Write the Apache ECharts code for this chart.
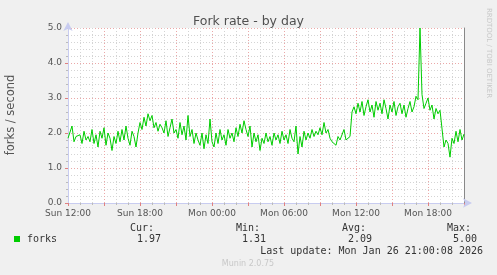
<!DOCTYPE html>
<html><head><meta charset="utf-8">
<script src="https://cdn.jsdelivr.net/npm/echarts@6/dist/echarts.min.js"></script>
<style>html,body{margin:0;padding:0;background:#f0f0f0}#c{width:497px;height:275px}</style>
</head><body><div id="c"></div>
<script>
// hours since Sun 12:00, one sample every 10 minutes
var forks = [
 1.85,1.8,2.2,1.75,1.9,1.85,
 1.95,1.7,2.05,1.8,1.9,1.75,
 2.1,1.7,1.95,1.6,2.05,1.85,
 2.15,1.65,2.0,1.85,1.5,1.9,
 1.7,2.05,1.75,2.1,1.8,2.2,
 1.85,1.65,2.05,1.9,1.6,2.0,
 2.3,2.1,2.45,2.2,2.55,2.35,
 2.5,2.15,2.3,2.05,2.25,2.15,
 2.0,2.35,1.9,2.15,2.4,2.0,
 2.1,1.85,2.3,1.95,2.2,1.8,
 2.5,1.9,2.1,1.7,2.0,1.8,
 1.65,2.0,1.55,1.95,1.7,2.4,
 1.75,1.6,2.0,1.7,2.1,1.8,
 1.95,1.65,2.1,1.85,2.0,1.75,
 2.15,1.9,2.25,2.0,2.35,2.1,
 1.9,2.2,1.6,2.0,1.75,1.95,
 1.5,1.85,1.7,2.0,1.75,1.9,
 1.65,2.0,1.8,1.95,1.7,2.05,
 1.8,1.95,1.7,2.1,1.85,1.75,
 2.2,1.4,1.9,1.6,2.05,1.8,
 2.0,1.85,2.1,1.9,2.05,1.95,
 2.15,1.95,2.3,2.0,2.1,1.85,
 1.75,1.8,1.65,1.9,1.8,1.85,
 2.1,1.8,1.85,1.9,2.6,2.75,
 2.55,2.85,2.6,2.9,2.5,2.75,
 2.95,2.6,2.8,2.45,2.9,2.65,
 2.85,2.55,2.95,2.7,2.4,2.8,
 2.6,2.9,2.5,2.75,2.85,2.55,
 2.8,2.45,2.7,2.9,2.6,2.75,
 3.05,2.95,5.0,3.1,2.7,2.85,
 3.0,2.65,2.8,2.4,2.7,2.55,
 2.65,2.6,1.6,1.8,1.7,1.31,
 1.85,1.7,2.05,1.75,2.1,1.8,
 1.97
];
var stepHours = 1/6;
var xTickLabels = {0:'Sun 12:00',6:'Sun 18:00',12:'Mon 00:00',18:'Mon 06:00',24:'Mon 12:00',30:'Mon 18:00'};
var seriesName = 'forks';
var statLabels = ['Cur:','Min:','Avg:','Max:'];
var statValues = ['1.97','1.31','2.09','5.00'];
var titleText = 'Fork rate - by day';
var yName = 'forks / second';
var lastUpdate = 'Last update: Mon Jan 26 21:00:08 2026';
var footer = 'Munin 2.0.75';
var sideText = 'RRDTOOL / TOBI OETIKER';

var data = forks.map(function(v,i){return [i*stepHours, v];});
var GREEN = '#00cc00';
var mono = '"DejaVu Sans Mono", monospace';
var sans = '"DejaVu Sans", sans-serif';
var statX = [154,260,366,471];
var valX = [161,266,372,477];
var graphics = [
  {type:'text', left:null, x:11, y:115, rotation:Math.PI/2, style:{text:yName, font:'11.5px '+sans, fill:'#555', align:'center', verticalAlign:'middle'}},
  {type:'text', x:488.5, y:53, rotation:-Math.PI/2, style:{text:sideText, font:'7px '+sans, fill:'#c8c8c8', align:'center', verticalAlign:'middle'}},
  {type:'rect', shape:{x:14, y:236, width:6, height:6}, style:{fill:GREEN}},
  {type:'text', x:27, y:239, style:{text:seriesName, font:'10px '+mono, fill:'#333', verticalAlign:'middle'}},
  {type:'text', x:483, y:251, style:{text:lastUpdate, font:'10px '+mono, fill:'#333', align:'right', verticalAlign:'middle'}},
  {type:'text', x:248, y:264, style:{text:footer, font:'8px '+sans, fill:'#c8c8c8', align:'center', verticalAlign:'middle'}}
];
statLabels.forEach(function(t,i){
  graphics.push({type:'text', x:statX[i], y:228, style:{text:t, font:'10px '+mono, fill:'#333', align:'right', verticalAlign:'middle'}});
  graphics.push({type:'text', x:valX[i], y:239, style:{text:statValues[i], font:'10px '+mono, fill:'#333', align:'right', verticalAlign:'middle'}});
});

var chart = echarts.init(document.getElementById('c'), null, {renderer:'canvas'});
chart.setOption({
  backgroundColor:'#f0f0f0',
  animation:false,
  title:{text:titleText, left:'center', top:10, textStyle:{fontFamily:sans, fontSize:12.5, fontWeight:'normal', color:'#505050'}},
  grid:{left:68, right:33, top:28, bottom:72, show:true, backgroundColor:'#ffffff', borderWidth:0},
  xAxis:{type:'value', min:0, max:33, interval:3,
    axisLine:{show:true, onZero:false, lineStyle:{color:'#c8ccf0', width:1}, symbol:['none','arrow'], symbolSize:[7,9], symbolOffset:[0,8]},
    axisTick:{show:true, length:3, lineStyle:{color:'#e08080'}},
    minorTick:{show:true, splitNumber:3, length:2, lineStyle:{color:'#bbbbbb'}},
    splitLine:{show:true, lineStyle:{color:'#eba8a8', type:[1,2], width:1}},
    minorSplitLine:{show:true, lineStyle:{color:'#d4d4d4', type:[1,2], width:1}},
    axisLabel:{margin:6, fontFamily:sans, fontSize:9, color:'#555', showMaxLabel:true, showMinLabel:true,
      formatter:function(v){return xTickLabels[Math.round(v)] || '';}}
  },
  yAxis:[{type:'value', min:0, max:5, interval:1,
    axisLine:{show:true, lineStyle:{color:'#c8ccf0', width:1}, symbol:['none','arrow'], symbolSize:[7,9], symbolOffset:[0,6]},
    axisTick:{show:true, length:3, lineStyle:{color:'#e08080'}},
    minorTick:{show:true, splitNumber:5, length:2, lineStyle:{color:'#bbbbbb'}},
    splitLine:{show:true, lineStyle:{color:'#eba8a8', type:[1,2], width:1}},
    minorSplitLine:{show:true, lineStyle:{color:'#d4d4d4', type:[1,2], width:1}},
    axisLabel:{margin:6, fontFamily:sans, fontSize:9, color:'#555', formatter:function(v){return v.toFixed(1);}}
  },{type:'value', min:0, max:5, position:'right',
    axisLine:{show:true, lineStyle:{color:'#888888', width:1}},
    axisTick:{show:false}, axisLabel:{show:false}, splitLine:{show:false}
  }],
  series:[{type:'line', name:seriesName, data:data, showSymbol:false, symbol:'none',
    lineStyle:{color:GREEN, width:1}, itemStyle:{color:GREEN}, z:5}],
  graphic:graphics
});
</script></body></html>
